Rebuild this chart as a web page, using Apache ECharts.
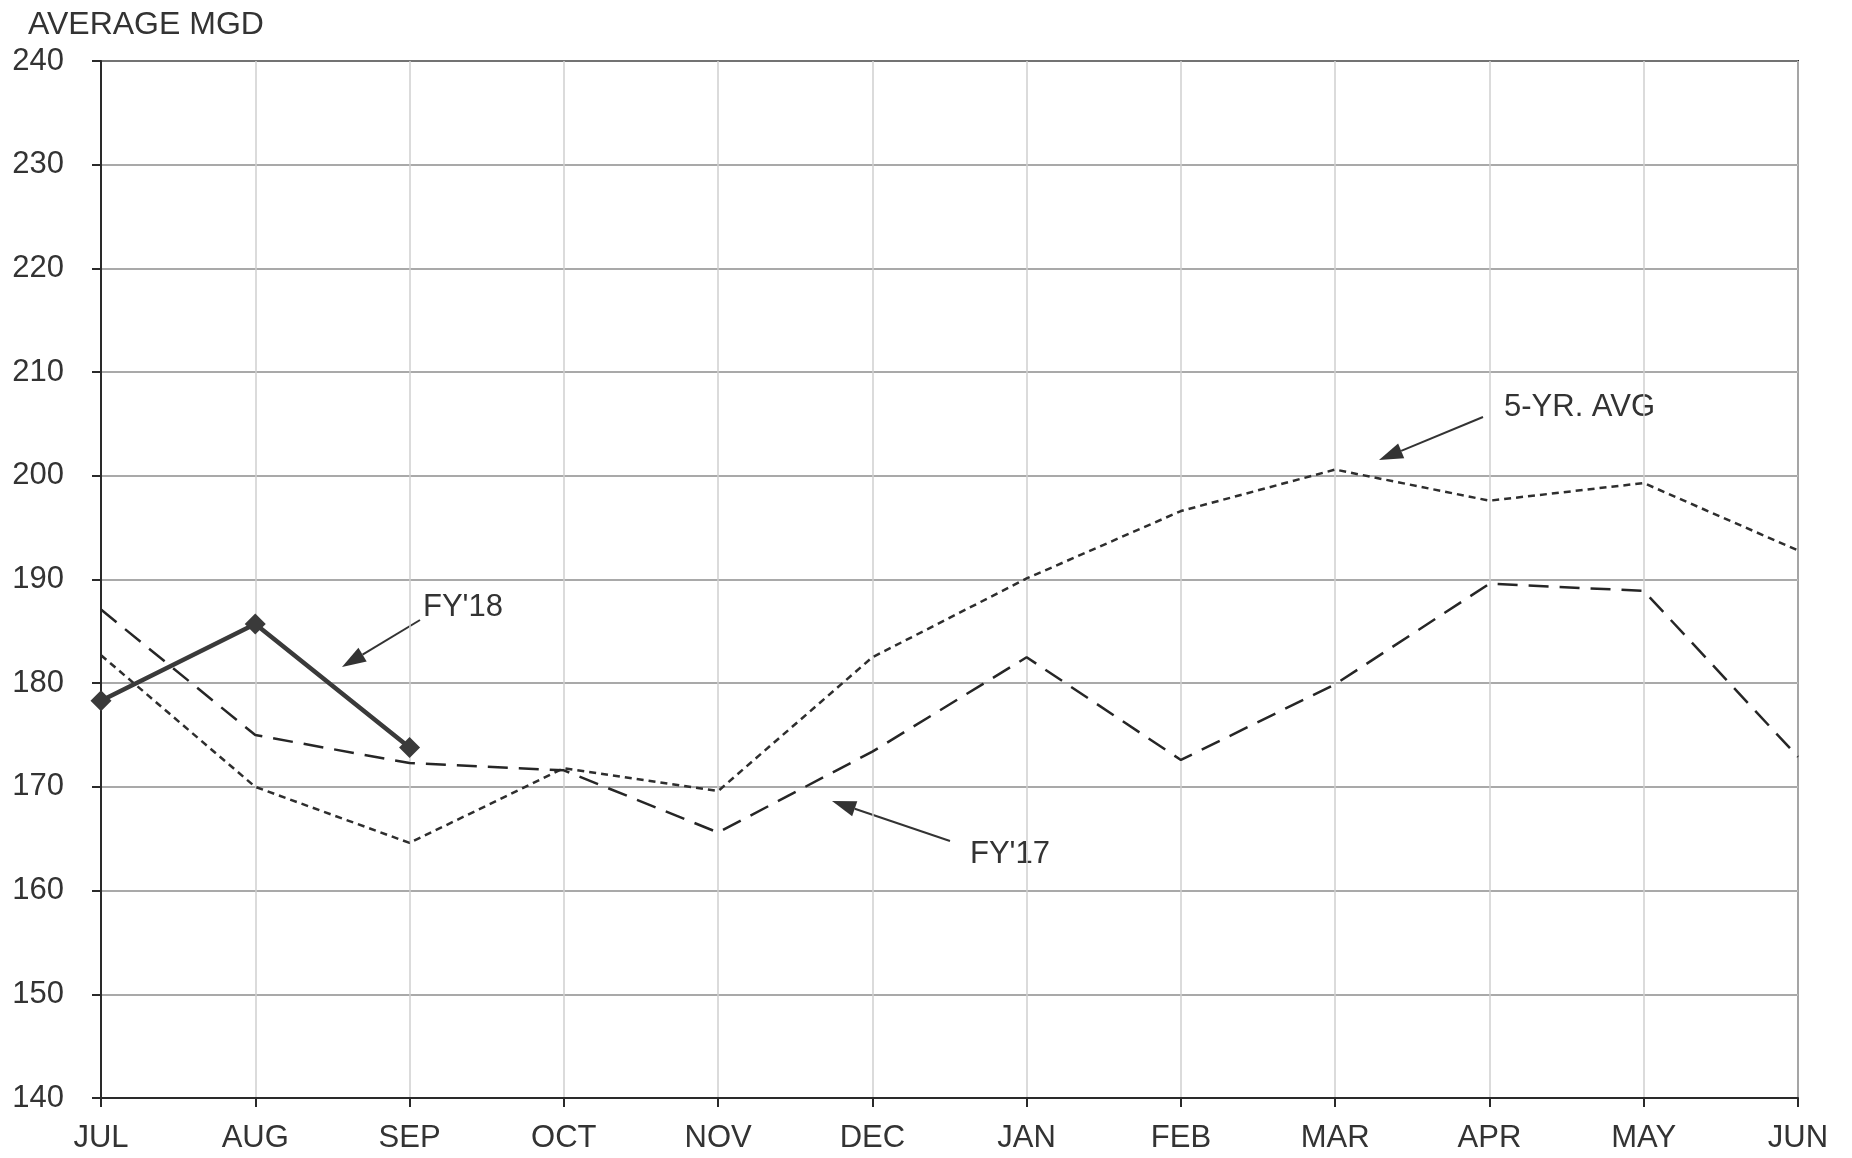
<!DOCTYPE html>
<html>
<head>
<meta charset="utf-8">
<script src="https://cdn.jsdelivr.net/npm/echarts@6/dist/echarts.min.js"></script>
<style>
  html, body { margin: 0; padding: 0; background: #fff; }
  #chart { width: 1852px; height: 1158px; }
</style>
</head>
<body>
<div id="chart"></div>
<script>
// Monthly average flow, fiscal year July–June
const months = ['JUL', 'AUG', 'SEP', 'OCT', 'NOV', 'DEC', 'JAN', 'FEB', 'MAR', 'APR', 'MAY', 'JUN'];
const fy18 = [178.3, 185.7, 173.8];
const fy17 = [187.1, 175.0, 172.3, 171.6, 165.6, 173.4, 182.5, 172.6, 179.9, 189.6, 188.9, 172.9];
const fiveYrAvg = [182.7, 170.0, 164.6, 171.8, 169.6, 182.5, 190.1, 196.6, 200.6, 197.6, 199.3, 192.8];
const yTicks = { min: 140, max: 240, interval: 10 };

const textColor = '#333333';
const font = 'Liberation Sans, Arial, sans-serif';

const chart = echarts.init(document.getElementById('chart'), null, { renderer: 'canvas' });

// Callout: a leader line with a filled arrowhead at the tip, plus its label
function callout(tail, tip, label, labelPos) {
  const dx = tip[0] - tail[0], dy = tip[1] - tail[1];
  const len = Math.hypot(dx, dy);
  const ux = dx / len, uy = dy / len;
  const hl = 24, hw = 8;
  const bx = tip[0] - ux * hl, by = tip[1] - uy * hl;
  return [
    {
      type: 'line',
      shape: { x1: tail[0], y1: tail[1], x2: bx, y2: by },
      style: { stroke: '#333', lineWidth: 2 }
    },
    {
      type: 'polygon',
      shape: { points: [tip, [bx - uy * hw, by + ux * hw], [bx + uy * hw, by - ux * hw]] },
      style: { fill: '#333' }
    },
    {
      type: 'text',
      x: labelPos[0], y: labelPos[1],
      style: { text: label, font: '31px ' + font, fill: textColor, textVerticalAlign: 'middle' }
    }
  ];
}

const option = {
  backgroundColor: '#fff',
  animation: false,
  title: {
    text: 'AVERAGE MGD',
    left: 23, top: 4,
    textStyle: { fontFamily: font, fontSize: 32, fontWeight: 'normal', color: textColor }
  },
  grid: {
    left: 101, right: 54, top: 61, bottom: 60,
    show: true, borderColor: '#2a2a2a', borderWidth: 2
  },
  xAxis: {
    type: 'category',
    data: months,
    boundaryGap: false,
    axisLine: { lineStyle: { color: '#2a2a2a', width: 2 } },
    axisTick: { show: true, length: 9, lineStyle: { color: '#2a2a2a', width: 2 } },
    axisLabel: { margin: 25, fontFamily: font, fontSize: 31, color: textColor },
    splitLine: { show: true, lineStyle: { color: '#cfcfcf', width: 1.5 } }
  },
  yAxis: {
    type: 'value',
    min: yTicks.min, max: yTicks.max, interval: yTicks.interval,
    axisLine: { show: true, lineStyle: { color: '#2a2a2a', width: 2 } },
    axisTick: { show: true, length: 9, lineStyle: { color: '#2a2a2a', width: 2 } },
    axisLabel: { margin: 37, fontFamily: font, fontSize: 31, color: textColor },
    splitLine: { show: true, lineStyle: { color: '#8c8c8c', width: 1.5 } }
  },
  series: [
    {
      name: "5-YR. AVG",
      type: 'line',
      data: fiveYrAvg,
      symbol: 'none',
      lineStyle: { color: '#2e2e2e', width: 2.5, type: [7, 5] },
      z: 3
    },
    {
      name: "FY'17",
      type: 'line',
      data: fy17,
      symbol: 'none',
      lineStyle: { color: '#262626', width: 2.5, type: [20, 11] },
      z: 4
    },
    {
      name: "FY'18",
      type: 'line',
      data: fy18,
      symbol: 'diamond',
      symbolSize: 21,
      itemStyle: { color: '#3a3a3a' },
      lineStyle: { color: '#3a3a3a', width: 4.5 },
      z: 5
    }
  ],
  graphic: [].concat(
    callout([420, 620], [342, 667], "FY'18", [423, 607]),
    callout([950, 841], [832, 801], "FY'17", [970, 854]),
    callout([1483, 417], [1379, 460], '5-YR. AVG', [1504, 407])
  )
};

chart.setOption(option);
</script>
</body>
</html>
